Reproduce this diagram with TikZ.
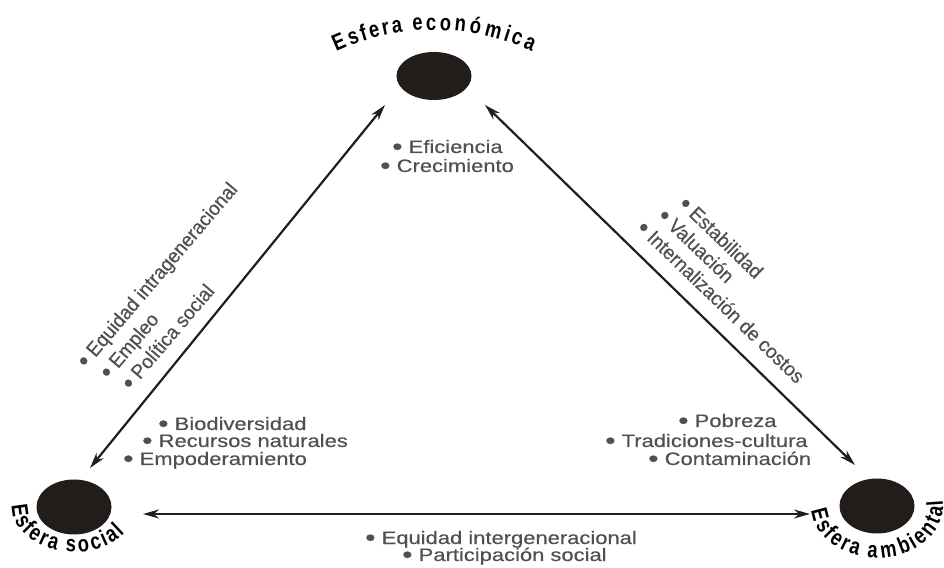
\documentclass[tikz,border=0pt]{standalone}
\usepackage{fontspec}
\usepackage{graphicx}
\setmainfont{Liberation Sans}
\newfontfamily\listfont{Liberation Sans}[FakeStretch=1.22,FakeBold=0.4]
\newfontfamily\tiltfont{Liberation Sans}[FakeStretch=0.95,FakeBold=0.4]
\newfontfamily\curvefont{Liberation Sans}[FakeStretch=0.8]
\usetikzlibrary{shapes.geometric,arrows.meta,decorations.text}
\definecolor{itemgray}{HTML}{505050}
\definecolor{spherefill}{HTML}{221D1A}
\newcommand{\blt}{\raisebox{-0.1em}{\scalebox{1.35}{•}}}
\tikzset{
  sphere/.style={ellipse, fill=spherefill, minimum width=75pt, minimum height=55pt, inner sep=0pt},
  item/.style={anchor=base west, inner sep=0pt, text=itemgray, font=\listfont\fontsize{18}{20}\selectfont},
  tiltitem/.style={anchor=base west, inner sep=0pt, text=itemgray, font=\tiltfont\fontsize{20}{22}\selectfont},
  link/.style={{Stealth[length=16pt,width=9pt]}-{Stealth[length=16pt,width=9pt]}, line width=2.2pt, draw=black!88},
  spherename/.style={decorate, decoration={text effects along path, text={#1},
    text effects/.cd, fit text to path,
    characters={transform shape, anchor=base, inner sep=0pt, text=black, font=\curvefont\bfseries\fontsize{23}{25}\selectfont}}}
}
\begin{document}
\begin{tikzpicture}[x=1pt,y=1pt]
\useasboundingbox (0,0) rectangle (944,567);
% les trois spheres
\node[sphere, minimum height=48pt] (econ) at (434,491) {};
\node[sphere] (social) at (74,60) {};
\node[sphere] (ambient) at (877,61) {};

\path[spherename={Esfera económica}] ([shift={(114.5:236)}]434,301) arc[start angle=114.5, end angle=65.5, radius=236];
\path[spherename={Esfera social}] ([shift={(178:62 and 45)}]74,60) arc[start angle=178, end angle=325, x radius=62, y radius=45];
\path[spherename={Esfera ambiental}] ([shift={(185:66 and 52)}]877,61) arc[start angle=185, end angle=366, x radius=66, y radius=52];

% les fleches
\coordinate (ecoL) at (385,462);
\coordinate (ecoR) at (485,462);
\coordinate (socU) at (90,99);
\coordinate (socR) at (143,53);
\coordinate (ambU) at (855,102);
\coordinate (ambL) at (810,53);
\draw[link] (socU) -- (ecoL);
\draw[link] (ecoR) -- (ambU);
\draw[link] (socR) -- (ambL);

% les listes
\path (392,414) node[item] (efic) {\blt\ Eficiencia}
      (380,395) node[item] (crec) {\blt\ Crecimiento};
\path (158,137) node[item] (biod) {\blt\ Biodiversidad}
      (142,120) node[item] (recu) {\blt\ Recursos naturales}
      (123,102) node[item] (empo) {\blt\ Empoderamiento};
\path (678,140) node[item] (pobr) {\blt\ Pobreza}
      (605,120) node[item] (trad) {\blt\ Tradiciones-cultura}
      (648,102) node[item] (cont) {\blt\ Contaminación};
\path (365,23) node[item] (inter) {\blt\ Equidad intergeneracional}
      (402,6) node[item] (part) {\blt\ Participación social};

\path (86,198) node[tiltitem, rotate=49.6] (intra) {\blt\ Equidad intrageneracional}
      (108.7,186.8) node[tiltitem, rotate=49.6] (empl) {\blt\ Empleo}
      (130.7,175.8) node[tiltitem, rotate=49.6] (poli) {\blt\ Política social};
\path (677.6,361.8) node[tiltitem, rotate=-44] (esta) {\blt\ Estabilidad}
      (656.6,349.8) node[tiltitem, rotate=-44] (valu) {\blt\ Valuación}
      (635.6,337.8) node[tiltitem, rotate=-44] (costo) {\blt\ Internalización de costos};
\end{tikzpicture}
\end{document}
